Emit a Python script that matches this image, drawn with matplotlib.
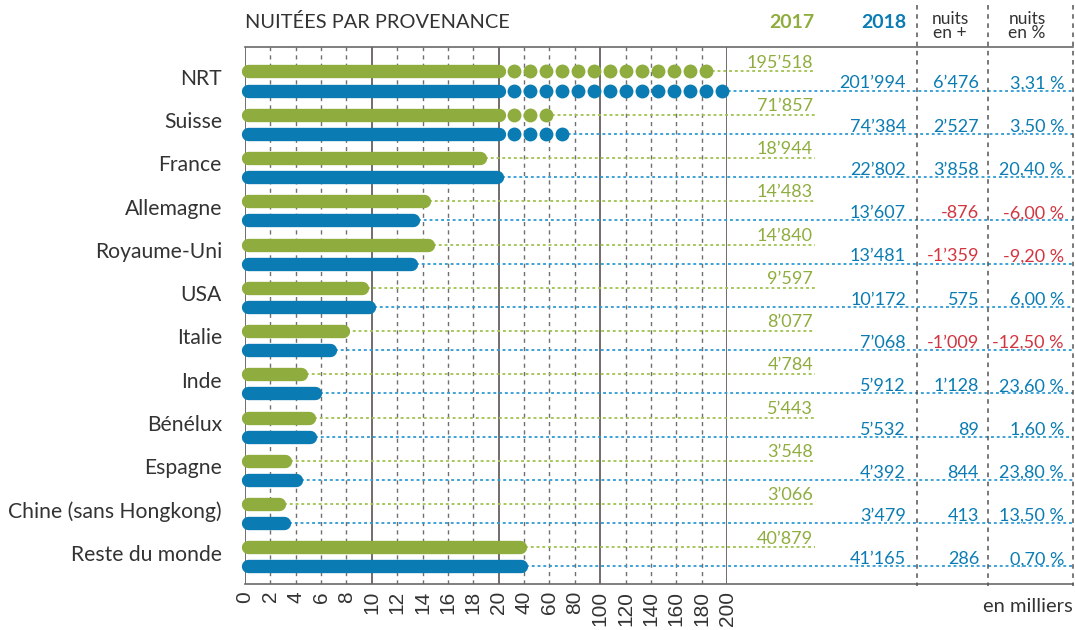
import numpy as np
import matplotlib
matplotlib.use("Agg")
import matplotlib.pyplot as plt
import matplotlib.transforms as mtransforms
from matplotlib.lines import Line2D

# ---------------- data ----------------
categories = ["NRT", "Suisse", "France", "Allemagne", "Royaume-Uni", "USA", "Italie",
              "Inde", "Bénélux", "Espagne", "Chine (sans Hongkong)", "Reste du monde"]
nuits_2017 = [195518, 71857, 18944, 14483, 14840, 9597, 8077, 4784, 5443, 3548, 3066, 40879]
nuits_2018 = [201994, 74384, 22802, 13607, 13481, 10172, 7068, 5912, 5532, 4392, 3479, 41165]
pct_change = [3.31, 3.50, 20.40, -6.00, -9.20, 6.00, -12.50, 23.60, 1.60, 23.80, 13.50, 0.70]
tick_values = [0, 2, 4, 6, 8, 10, 12, 14, 16, 18, 20, 40, 60, 80, 100, 120, 140, 160, 180, 200]
major_lines = [0, 10, 20, 100, 200]

# ---------------- style ----------------
GREEN = "#8fad3e"
BLUE = "#0a7cb3"
RED = "#d23540"
GREEN_L = "#a2c250"
BLUE_L = "#2f9bd3"
TXT = "#333333"
GRID = "#6f6f6f"

plt.rcParams['font.family'] = ['Lato', 'DejaVu Sans']

BREAK = 20.0      # linear part up to 20k, then compressed
COMPRESS = 10.0
DOT_THRESHOLD = 50.0
DOT_VALUE = 12.99     # thousands per dot
DOT_START = 32.0
DOT_STEP = 12.6
END_SHIFT = 0.38      # round cap kept inside the value (display units)
START_SHIFT = 0.2


def fwd(v):
    v = np.asarray(v, dtype=float)
    return np.where(v <= BREAK, v, BREAK + (v - BREAK) / COMPRESS)


def inv(u):
    u = np.asarray(u, dtype=float)
    return np.where(u <= BREAK, u, BREAK + (u - BREAK) * COMPRESS)


W, H = 1075, 630
fig = plt.figure(figsize=(W / 100, H / 100), dpi=100)
ax = fig.add_axes([245 / W, 1 - 584 / H, (727 - 245) / W, (584 - 47) / H])
ax.set_xscale('function', functions=(fwd, inv))
ax.set_xlim(0, 200)
ax.set_ylim(11.625, -0.786)
for s in ax.spines.values():
    s.set_visible(False)
ax.set_yticks([])
ax.set_xticks(tick_values)
ax.set_xticklabels([str(t) for t in tick_values], rotation=90,
                   fontfamily=['Liberation Sans'], fontsize=15, color=TXT)
ax.tick_params(axis='x', length=0, pad=5)

# grid
for t in tick_values:
    if t in major_lines:
        ax.axvline(t, color="#5a5350", lw=1.2, zorder=1)
    else:
        ax.axvline(t, color=GRID, lw=1.0, ls=(0, (3, 3)), zorder=1)

fig.canvas.draw()


def px_to_x(px):
    return ax.transData.inverted().transform([[px, 0]])[0, 0]


x_green_end = px_to_x(815)
x_blue_end = px_to_x(1073)

blend = mtransforms.blended_transform_factory(fig.transFigure, ax.transData)

BAR_LW = 9.6
DOT_S = 100
OFF = 0.22
x_start = float(inv(START_SHIFT))


def fmt(n):
    return f"{n:,}".replace(",", "\u2019")


for i, (cat, a, b, p) in enumerate(zip(categories, nuits_2017, nuits_2018, pct_change)):
    for val, yy, col, col_l, xend in ((a, i - OFF, GREEN, GREEN_L, x_green_end),
                                      (b, i + OFF, BLUE, BLUE_L, x_blue_end)):
        v = val / 1000.0
        if v > DOT_THRESHOLD:
            ax.plot([x_start, BREAK], [yy, yy], color=col, lw=BAR_LW,
                    solid_capstyle='round', zorder=3, clip_on=False)
            n = int((v - BREAK) // DOT_VALUE)
            xs = DOT_START + DOT_STEP * np.arange(n)
            ax.scatter(xs, [yy] * n, s=DOT_S, color=col, zorder=3, linewidths=0,
                       clip_on=False)
            start = xs[-1]
        else:
            x_end = float(inv(fwd(v) - END_SHIFT))
            ax.plot([x_start, x_end], [yy, yy], color=col, lw=BAR_LW,
                    solid_capstyle='round', zorder=3, clip_on=False)
            start = v
        ax.plot([start, xend], [yy, yy], color=col_l, lw=1.3, ls=(0, (1.6, 1.6)),
                zorder=2, clip_on=False)

    # labels
    ax.text(222 / W, i - 0.05, cat, transform=blend, ha='right', va='center',
            fontsize=15.2, color=TXT)
    ax.text(813 / W, i - OFF - 0.09, fmt(a), transform=blend, ha='right',
            va='baseline', fontsize=13, color=GREEN)
    ax.text(906 / W, i + OFF - 0.05, fmt(b), transform=blend, ha='right',
            va='baseline', fontsize=13, color=BLUE)
    d = b - a
    ax.text(979 / W, i + OFF - 0.05, fmt(d), transform=blend, ha='right',
            va='baseline', fontsize=13, color=RED if d < 0 else BLUE)
    ptxt = f"{p:.2f}".replace(".", ",") + " %"
    ax.text(1064 / W, i + OFF - 0.05, ptxt, transform=blend, ha='right',
            va='baseline', fontsize=13, color=RED if p < 0 else BLUE)


# frame lines (figure coordinates)
def fline(x0, y0, x1, y1, **kw):
    fig.add_artist(Line2D([x0 / W, x1 / W], [1 - y0 / H, 1 - y1 / H], **kw))


fline(245, 47, 1073, 47, color="#6a6a6a", lw=1.2)
fline(245, 584, 1073, 584, color="#6a6a6a", lw=1.2)
for xx in (917, 988, 1073):
    fline(xx, 5, xx, 586, color="#555555", lw=1.1, ls=(0, (3, 3)))

# headers
fig.text(245 / W, 1 - 22 / H, "NUITÉES PAR PROVENANCE", ha='left', va='center',
         fontsize=14.4, color=TXT)
fig.text(814 / W, 1 - 22 / H, "2017", ha='right', va='center', fontsize=14,
         fontweight='bold', color=GREEN)
fig.text(906 / W, 1 - 22 / H, "2018", ha='right', va='center', fontsize=14,
         fontweight='bold', color=BLUE)
fig.text(950 / W, 1 - 26 / H, "nuits\nen +", ha='center', va='center', fontsize=12.5,
         color=TXT, linespacing=0.9)
fig.text(1027 / W, 1 - 26 / H, "nuits\nen %", ha='center', va='center', fontsize=12.5,
         color=TXT, linespacing=0.9)
fig.text(1073 / W, 1 - 606 / H, "en milliers", ha='right', va='center', fontsize=14.5,
         color=TXT)

fig.savefig("out.png", dpi=100)
